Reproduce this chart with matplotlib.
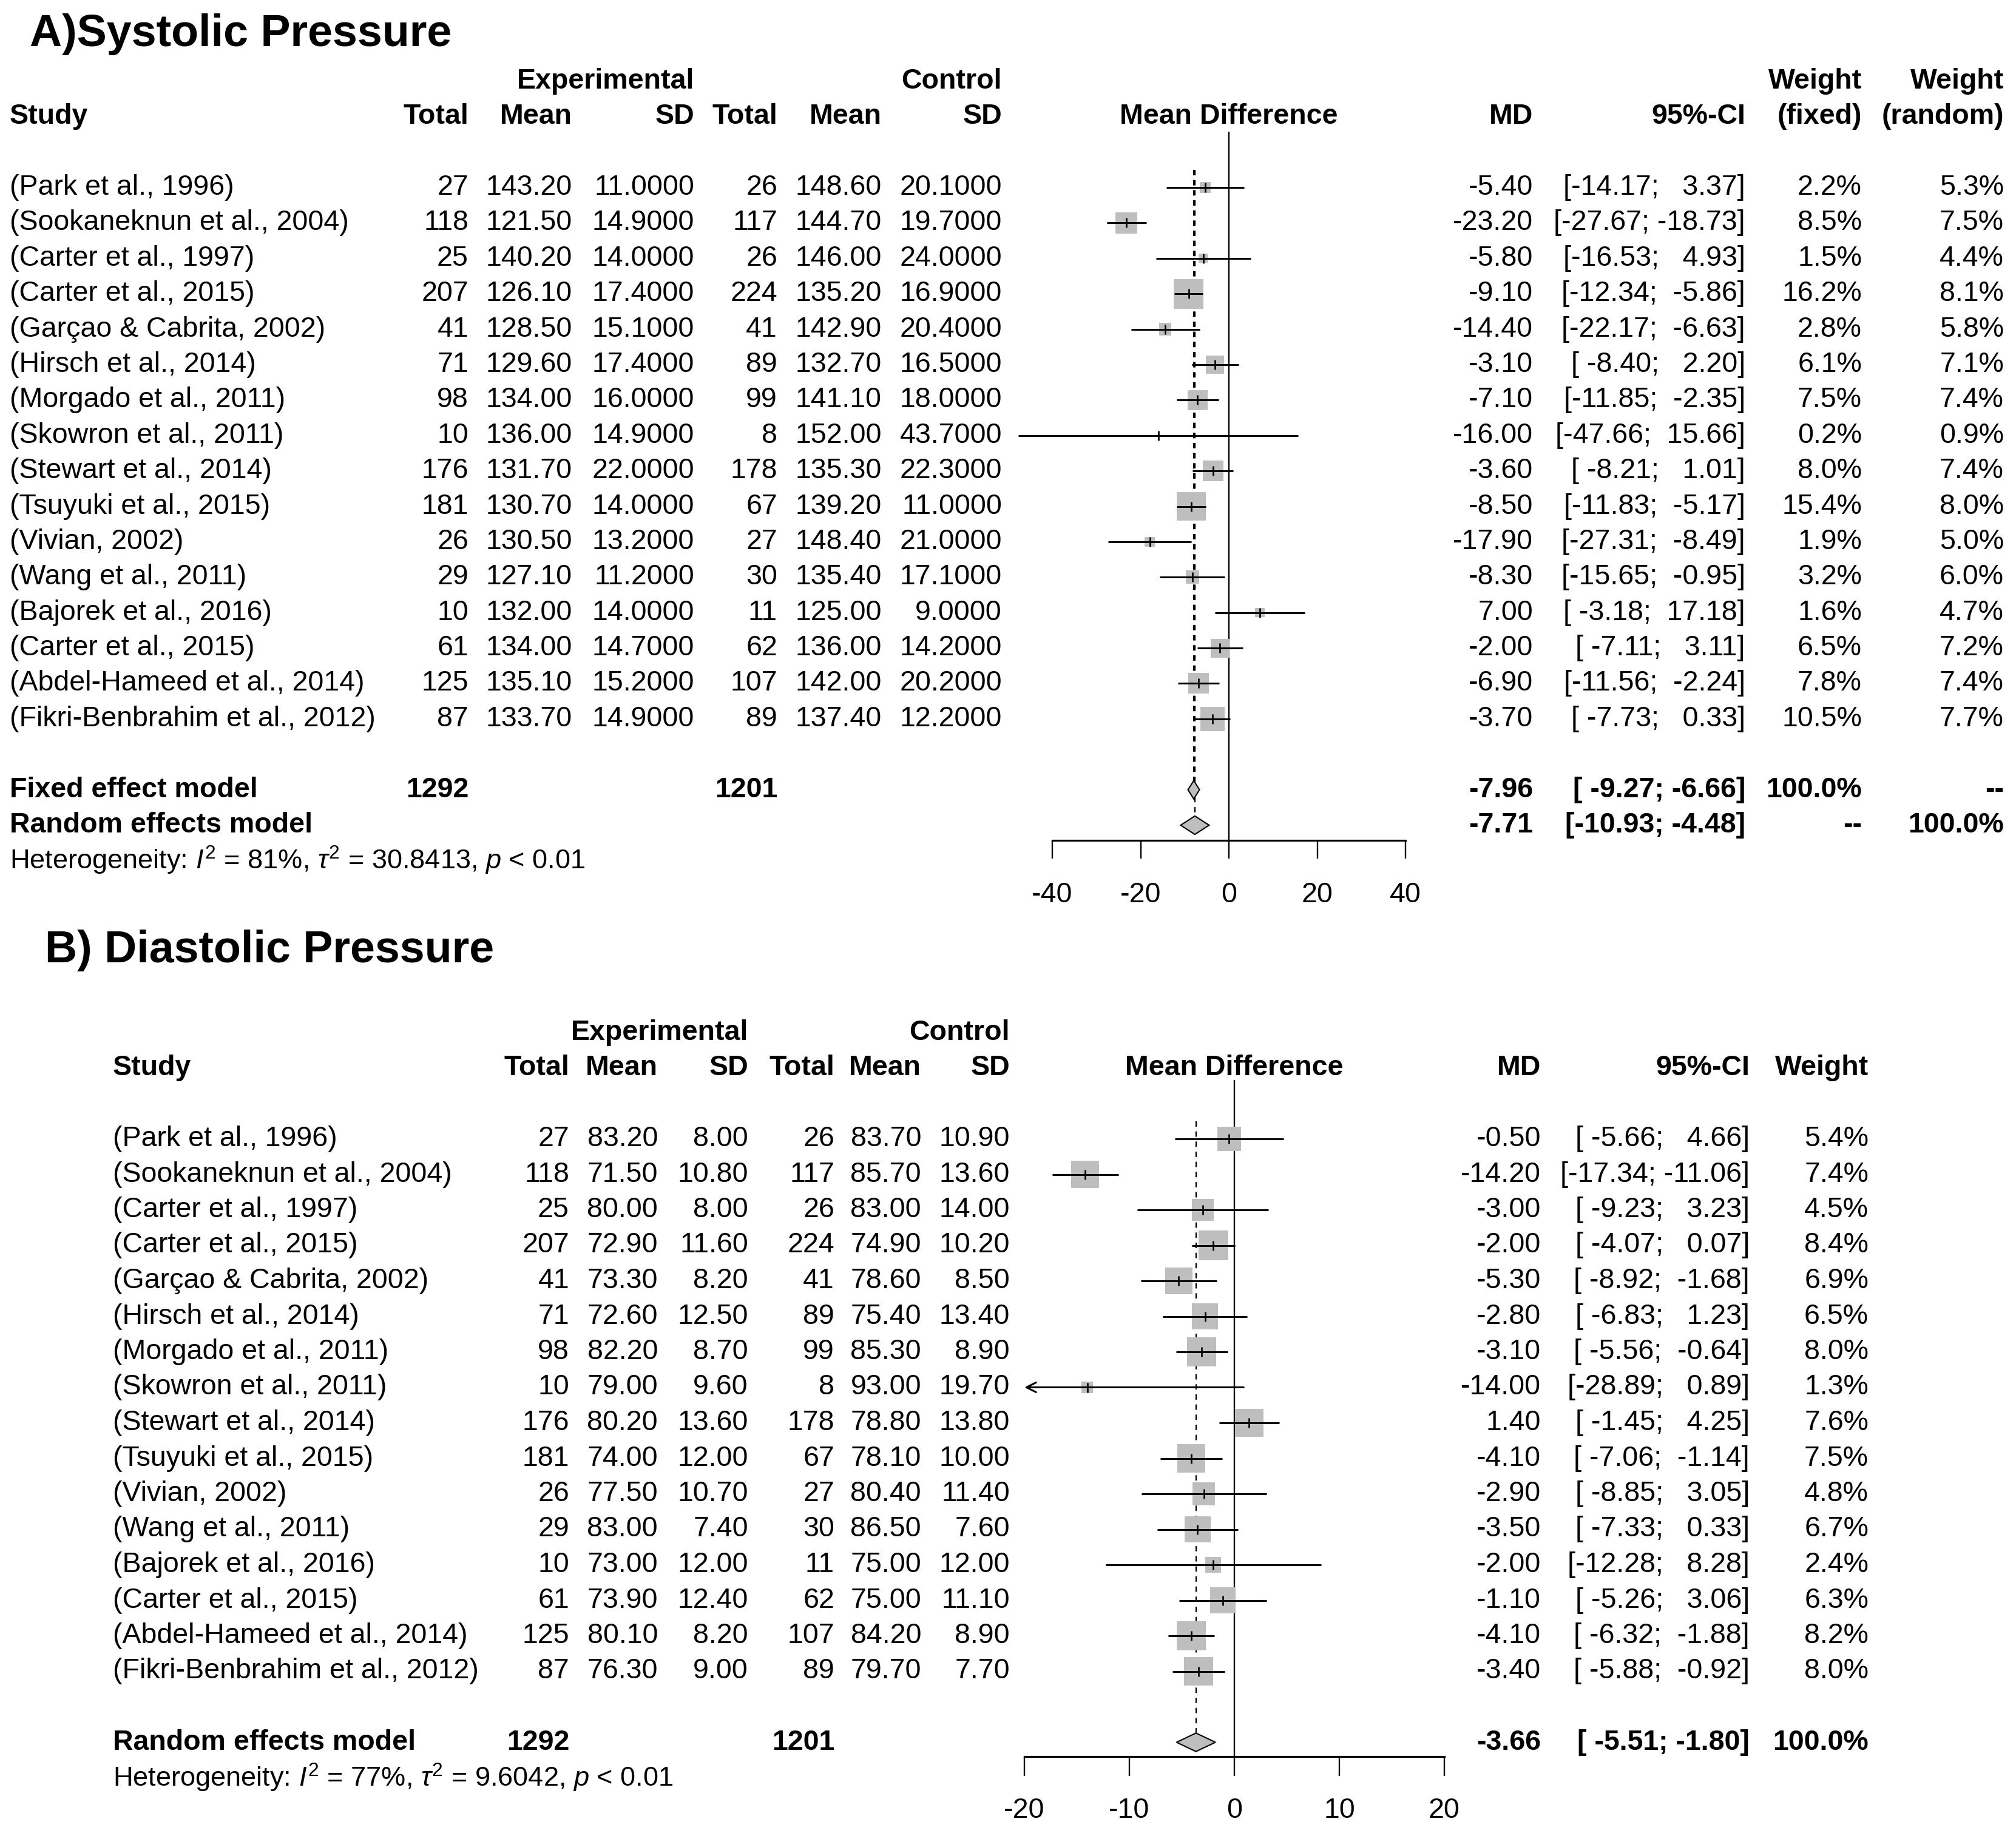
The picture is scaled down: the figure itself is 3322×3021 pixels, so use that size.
import numpy as np
import matplotlib
matplotlib.use("Agg")
import matplotlib.pyplot as plt
from matplotlib.patches import Polygon

plt.rcParams["font.family"] = ["Liberation Sans", "DejaVu Sans"]
plt.rcParams["mathtext.fontset"] = "custom"
plt.rcParams["mathtext.rm"] = "Liberation Sans"
plt.rcParams["mathtext.it"] = "Liberation Sans:italic"
plt.rcParams["mathtext.bf"] = "Liberation Sans:bold"

# ---------------------------------------------------------------- data
STUDIES = [
    "(Park et al., 1996)", "(Sookaneknun et al., 2004)", "(Carter et al., 1997)",
    "(Carter et al., 2015)", "(Garçao & Cabrita, 2002)", "(Hirsch et al., 2014)",
    "(Morgado et al., 2011)", "(Skowron et al., 2011)", "(Stewart et al., 2014)",
    "(Tsuyuki et al., 2015)", "(Vivian, 2002)", "(Wang et al., 2011)",
    "(Bajorek et al., 2016)", "(Carter et al., 2015)", "(Abdel-Hameed et al., 2014)",
    "(Fikri-Benbrahim et al., 2012)",
]
N_EXP = [27, 118, 25, 207, 41, 71, 98, 10, 176, 181, 26, 29, 10, 61, 125, 87]
N_CTRL = [26, 117, 26, 224, 41, 89, 99, 8, 178, 67, 27, 30, 11, 62, 107, 89]

# A) systolic
SYS_MEAN_EXP = [143.20, 121.50, 140.20, 126.10, 128.50, 129.60, 134.00, 136.00,
                131.70, 130.70, 130.50, 127.10, 132.00, 134.00, 135.10, 133.70]
SYS_SD_EXP = [11.0, 14.9, 14.0, 17.4, 15.1, 17.4, 16.0, 14.9,
              22.0, 14.0, 13.2, 11.2, 14.0, 14.7, 15.2, 14.9]
SYS_MEAN_CTRL = [148.60, 144.70, 146.00, 135.20, 142.90, 132.70, 141.10, 152.00,
                 135.30, 139.20, 148.40, 135.40, 125.00, 136.00, 142.00, 137.40]
SYS_SD_CTRL = [20.1, 19.7, 24.0, 16.9, 20.4, 16.5, 18.0, 43.7,
               22.3, 11.0, 21.0, 17.1, 9.0, 14.2, 20.2, 12.2]
SYS_MD = [-5.40, -23.20, -5.80, -9.10, -14.40, -3.10, -7.10, -16.00,
          -3.60, -8.50, -17.90, -8.30, 7.00, -2.00, -6.90, -3.70]
SYS_LO = [-14.17, -27.67, -16.53, -12.34, -22.17, -8.40, -11.85, -47.66,
          -8.21, -11.83, -27.31, -15.65, -3.18, -7.11, -11.56, -7.73]
SYS_HI = [3.37, -18.73, 4.93, -5.86, -6.63, 2.20, -2.35, 15.66,
          1.01, -5.17, -8.49, -0.95, 17.18, 3.11, -2.24, 0.33]
SYS_W_FIXED = [2.2, 8.5, 1.5, 16.2, 2.8, 6.1, 7.5, 0.2, 8.0, 15.4, 1.9, 3.2, 1.6, 6.5, 7.8, 10.5]
SYS_W_RANDOM = [5.3, 7.5, 4.4, 8.1, 5.8, 7.1, 7.4, 0.9, 7.4, 8.0, 5.0, 6.0, 4.7, 7.2, 7.4, 7.7]
SYS_POOL_LABELS = ["Fixed effect model", "Random effects model"]
SYS_POOL_MD = [-7.96, -7.71]
SYS_POOL_LO = [-9.27, -10.93]
SYS_POOL_HI = [-6.66, -4.48]
SYS_POOL_W_FIXED = [100.0, None]
SYS_POOL_W_RANDOM = [None, 100.0]
SYS_I2, SYS_TAU2 = 81, "30.8413"

# B) diastolic
DIA_MEAN_EXP = [83.20, 71.50, 80.00, 72.90, 73.30, 72.60, 82.20, 79.00,
                80.20, 74.00, 77.50, 83.00, 73.00, 73.90, 80.10, 76.30]
DIA_SD_EXP = [8.00, 10.80, 8.00, 11.60, 8.20, 12.50, 8.70, 9.60,
              13.60, 12.00, 10.70, 7.40, 12.00, 12.40, 8.20, 9.00]
DIA_MEAN_CTRL = [83.70, 85.70, 83.00, 74.90, 78.60, 75.40, 85.30, 93.00,
                 78.80, 78.10, 80.40, 86.50, 75.00, 75.00, 84.20, 79.70]
DIA_SD_CTRL = [10.90, 13.60, 14.00, 10.20, 8.50, 13.40, 8.90, 19.70,
               13.80, 10.00, 11.40, 7.60, 12.00, 11.10, 8.90, 7.70]
DIA_MD = [-0.50, -14.20, -3.00, -2.00, -5.30, -2.80, -3.10, -14.00,
          1.40, -4.10, -2.90, -3.50, -2.00, -1.10, -4.10, -3.40]
DIA_LO = [-5.66, -17.34, -9.23, -4.07, -8.92, -6.83, -5.56, -28.89,
          -1.45, -7.06, -8.85, -7.33, -12.28, -5.26, -6.32, -5.88]
DIA_HI = [4.66, -11.06, 3.23, 0.07, -1.68, 1.23, -0.64, 0.89,
          4.25, -1.14, 3.05, 0.33, 8.28, 3.06, -1.88, -0.92]
DIA_W = [5.4, 7.4, 4.5, 8.4, 6.9, 6.5, 8.0, 1.3, 7.6, 7.5, 4.8, 6.7, 2.4, 6.3, 8.2, 8.0]
DIA_POOL_LABELS = ["Random effects model"]
DIA_POOL_MD = [-3.66]
DIA_POOL_LO = [-5.51]
DIA_POOL_HI = [-1.80]
DIA_POOL_W = [100.0]
DIA_I2, DIA_TAU2 = 77, "9.6042"

# ---------------------------------------------------------------- layout (pixels)
W, H = 3322, 3021
FS = 33.5
GRAY = "#BEBEBE"
BOX_MAX_PX = 49
LW_CI = 2.15

LAYOUT_A = dict(
    row0=309, step=58.39, rows=(-5.0, 20.6),
    title_x=49, title_row=-4.32,
    study_x=16, col_x=[772, 943, 1144, 1281, 1453, 1651],
    md_x=2526, ci_x=2876,
    forest_px=(1734, 2316), xlim=(-40, 40), ticks=[-40, -20, 0, 20, 40], clip=None,
    zero_top=-1.58, axis_row=18.42, tick_px=30, pad_px=38,
)
LAYOUT_B = dict(
    row0=1877, step=58.5, rows=(-6.0, 19.2),
    title_x=74, title_row=-5.3,
    study_x=186, col_x=[938, 1084, 1233, 1375, 1518, 1664],
    md_x=2539, ci_x=2883,
    forest_px=(1688, 2380), xlim=(-20, 20), ticks=[-20, -10, 0, 10, 20], clip=(-20, 20),
    zero_top=-1.66, axis_row=17.4, tick_px=32, pad_px=35,
)

PX2PT = 72.0 / 100.0


def rect(x0, x1, lay):
    r_top, r_bot = lay["rows"]
    top = lay["row0"] + r_top * lay["step"]
    bot = lay["row0"] + r_bot * lay["step"]
    return [x0 / W, 1 - bot / H, (x1 - x0) / W, (bot - top) / H]


def fmt_ci(lo, hi, lo_width=0):
    lo_s = [f"{v:.2f}" for v in lo]
    hi_s = [f"{v:.2f}" for v in hi]
    wl = max([lo_width] + [len(s) for s in lo_s])
    wh = max(len(s) for s in hi_s)
    return [f"[{a:>{wl}}; {b:>{wh}}]" for a, b in zip(lo_s, hi_s)]


def fmt_w(v):
    return "--" if v is None else f"{v:.1f}%"


def draw_panel(fig, lay, title, sd_fmt, means_sds, md, lo, hi, w_box,
               weight_cols, pool_labels, pool_md, pool_lo, pool_hi, i2, tau2):
    n = len(md)
    r_top, r_bot = lay["rows"]
    ax_t = fig.add_axes(rect(0, W, lay))
    ax_t.set_xlim(0, W)
    ax_t.set_ylim(r_bot, r_top)
    ax_t.axis("off")

    fx0, fx1 = lay["forest_px"]
    ax_f = fig.add_axes(rect(fx0, fx1, lay))
    ax_f.set_xlim(*lay["xlim"])
    ax_f.set_ylim(r_bot, r_top)
    ax_f.patch.set_visible(False)

    bold = dict(fontsize=FS, fontweight="bold", va="center")
    norm = dict(fontsize=FS, va="center")

    ax_t.text(lay["title_x"], lay["title_row"], title, fontsize=53,
              fontweight="bold", ha="left", va="center")

    # headers
    cx = lay["col_x"]
    ax_t.text(lay["study_x"], -2, "Study", ha="left", **bold)
    for lab, x in zip(["Total", "Mean", "SD", "Total", "Mean", "SD"], cx):
        ax_t.text(x, -2, lab, ha="right", **bold)
    ax_t.text(cx[2], -3, "Experimental", ha="right", **bold)
    ax_t.text(cx[5], -3, "Control", ha="right", **bold)
    ax_f.text(0, -2, "Mean Difference", ha="center", **bold)
    ax_t.text(lay["md_x"], -2, "MD", ha="right", **bold)
    ax_t.text(lay["ci_x"], -2, "95%-CI", ha="right", **bold)
    for h1, h2, _, _, x in weight_cols:
        if h1:
            ax_t.text(x, -3, h1, ha="right", **bold)
        ax_t.text(x, -2, h2, ha="right", **bold)

    # study rows
    rows = np.arange(n)
    m_e, s_e, m_c, s_c = means_sds
    ci_txt = fmt_ci(lo, hi)
    for i in range(n):
        ax_t.text(lay["study_x"], i, STUDIES[i], ha="left", **norm)
        cells = [str(N_EXP[i]), f"{m_e[i]:.2f}", sd_fmt.format(s_e[i]),
                 str(N_CTRL[i]), f"{m_c[i]:.2f}", sd_fmt.format(s_c[i])]
        for s, x in zip(cells, cx):
            ax_t.text(x, i, s, ha="right", **norm)
        ax_t.text(lay["md_x"], i, f"{md[i]:.2f}", ha="right", **norm)
        ax_t.text(lay["ci_x"], i, ci_txt[i], ha="right", **norm)
        for _, _, vals, _, x in weight_cols:
            ax_t.text(x, i, fmt_w(vals[i]), ha="right", **norm)

    # pooled rows
    p_rows = n + 1 + np.arange(len(pool_md))
    lo_w = max(len(f"{v:.2f}") for v in lo)
    pci_txt = fmt_ci(pool_lo, pool_hi, lo_width=lo_w)
    for k, r in enumerate(p_rows):
        ax_t.text(lay["study_x"], r, pool_labels[k], ha="left", **bold)
        if k == 0:
            ax_t.text(cx[0], r, str(sum(N_EXP)), ha="right", **bold)
            ax_t.text(cx[3], r, str(sum(N_CTRL)), ha="right", **bold)
        ax_t.text(lay["md_x"], r, f"{pool_md[k]:.2f}", ha="right", **bold)
        ax_t.text(lay["ci_x"], r, pci_txt[k], ha="right", **bold)
        for _, _, _, pvals, x in weight_cols:
            ax_t.text(x, r, fmt_w(pvals[k]), ha="right", **bold)

    het = (r"Heterogeneity: $\mathit{I}^2$ = " + f"{i2}%, " + r"$\tau^2$ = "
           + tau2 + r", $\mathit{p}$ < 0.01")
    ax_t.text(lay["study_x"], p_rows[-1] + 1, het, ha="left", fontsize=FS * 0.97, va="center")

    # forest: reference lines
    ax_f.vlines(0, lay["zero_top"], lay["axis_row"], color="black", lw=1.7, clip_on=False)
    dh = 0.26
    for k, r in enumerate(p_rows):
        ax_f.vlines(pool_md[k], -0.5, r - dh, color="black", lw=1.6,
                    linestyles=(0, (4, 3.5)), clip_on=False, zorder=1)

    # boxes
    w_box = np.asarray(w_box, dtype=float)
    side_pt = BOX_MAX_PX * np.sqrt(w_box / w_box.max()) * PX2PT
    ax_f.scatter(md, rows, s=side_pt ** 2, marker="s", color=GRAY,
                 linewidths=0, zorder=2, clip_on=False)

    # confidence intervals
    lo_a = np.asarray(lo, dtype=float)
    hi_a = np.asarray(hi, dtype=float)
    for i in range(n):
        a, b = lo_a[i], hi_a[i]
        if lay["clip"] is not None and a < lay["clip"][0]:
            ax_f.annotate("", xy=(lay["clip"][0], i), xytext=(b, i),
                          arrowprops=dict(arrowstyle="->,head_length=1.0,head_width=0.5",
                                          mutation_scale=11.5, lw=LW_CI, color="black",
                                          shrinkA=0, shrinkB=0),
                          annotation_clip=False, zorder=3)
        else:
            ax_f.hlines(i, a, b, color="black", lw=LW_CI, zorder=3, clip_on=False)
    ax_f.scatter(md, rows, marker="|", s=(16 * PX2PT) ** 2, color="black",
                 linewidths=1.9, zorder=4, clip_on=False)

    # diamonds
    for k, r in enumerate(p_rows):
        poly = Polygon([[pool_lo[k], r], [pool_md[k], r - dh],
                        [pool_hi[k], r], [pool_md[k], r + dh]],
                       closed=True, facecolor=GRAY, edgecolor="black",
                       lw=1.5, zorder=3, clip_on=False)
        ax_f.add_patch(poly)

    # axis
    for side in ["left", "right", "top"]:
        ax_f.spines[side].set_visible(False)
    sp = ax_f.spines["bottom"]
    sp.set_position(("data", lay["axis_row"]))
    sp.set_bounds(*lay["xlim"])
    sp.set_linewidth(2.3)
    ax_f.set_yticks([])
    ax_f.set_xticks(lay["ticks"])
    ax_f.set_xticklabels([str(t) for t in lay["ticks"]])
    ax_f.tick_params(axis="x", direction="out", length=lay["tick_px"] * PX2PT,
                     width=1.7, pad=lay["pad_px"] * PX2PT, labelsize=FS)


def main():
    fig = plt.figure(figsize=(W / 100, H / 100), dpi=100)

    draw_panel(
        fig, LAYOUT_A, "A)Systolic Pressure", "{:.4f}",
        (SYS_MEAN_EXP, SYS_SD_EXP, SYS_MEAN_CTRL, SYS_SD_CTRL),
        SYS_MD, SYS_LO, SYS_HI, SYS_W_FIXED,
        [("Weight", "(fixed)", SYS_W_FIXED, SYS_POOL_W_FIXED, 3068),
         ("Weight", "(random)", SYS_W_RANDOM, SYS_POOL_W_RANDOM, 3302)],
        SYS_POOL_LABELS, SYS_POOL_MD, SYS_POOL_LO, SYS_POOL_HI, SYS_I2, SYS_TAU2,
    )
    draw_panel(
        fig, LAYOUT_B, "B) Diastolic Pressure", "{:.2f}",
        (DIA_MEAN_EXP, DIA_SD_EXP, DIA_MEAN_CTRL, DIA_SD_CTRL),
        DIA_MD, DIA_LO, DIA_HI, DIA_W,
        [(None, "Weight", DIA_W, DIA_POOL_W, 3079)],
        DIA_POOL_LABELS, DIA_POOL_MD, DIA_POOL_LO, DIA_POOL_HI, DIA_I2, DIA_TAU2,
    )

    fig.savefig("out.png", dpi=100, facecolor="white")
    plt.close(fig)


if __name__ == "__main__":
    main()
